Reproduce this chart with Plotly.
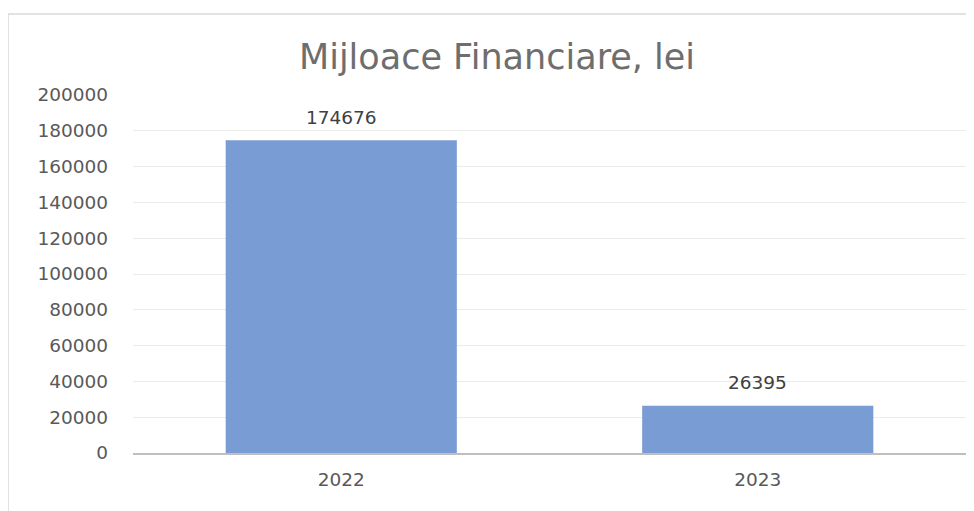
import plotly.graph_objects as go

categories = ["2022", "2023"]
values = [174676, 26395]
y_ticks = list(range(0, 200001, 20000))
title_text = "Mijloace Financiare, lei"

# page body has an 8px margin, so the figure is placed 8px right/down
OFF = 8
W, H = 974 - OFF, 511 - OFF
L, R, T, B = 133 - OFF, 8, 95 - OFF, 58
pw, ph = W - L - R, H - T - B

fig = go.Figure()
fig.add_trace(go.Bar(
    x=categories, y=values,
    marker=dict(color="#7A9CD4", line=dict(width=0)),
    hoverinfo="skip",
))

# value labels (category axis positions are the category indices)
for i, v in enumerate(values):
    fig.add_annotation(
        x=i, y=v, xref="x", yref="y", text=str(v), showarrow=False,
        yanchor="middle", yshift=23,
        font=dict(family="DejaVu Sans", size=18.5, color="#404040"),
    )

# chart outer border
fig.add_shape(
    type="rect", xref="paper", yref="paper",
    x0=(8 - OFF - L) / pw, x1=(990 - OFF - L) / pw,
    y0=(H - B - 530) / ph, y1=(H - B - (14 - OFF)) / ph,
    line=dict(color="#D9D9D9", width=1.5), fillcolor="rgba(0,0,0,0)",
    layer="below",
)

fig.update_layout(
    width=W, height=H,
    margin=dict(l=L, r=R, t=T, b=B, autoexpand=False),
    paper_bgcolor="white", plot_bgcolor="white",
    bargap=0.445,
    showlegend=False,
    title=dict(
        text=title_text, x=(497 - OFF) / W, xanchor="center",
        y=1 - (57 - OFF) / H, yanchor="middle",
        font=dict(family="DejaVu Sans", size=35, color="#6e6e6e"),
    ),
    xaxis=dict(
        type="category", range=[-0.5, 1.5], automargin=False,
        showgrid=False, showline=True, linecolor="#BFBFBF", linewidth=2,
        ticks="", ticklabelstandoff=9,
        tickfont=dict(family="DejaVu Sans", size=18.5, color="#595959"),
    ),
    yaxis=dict(
        automargin=False,
        range=[0, 200000], tickvals=y_ticks,
        ticktext=[str(t) for t in y_ticks],
        showgrid=True, gridcolor="#EBEBEB", gridwidth=1,
        zeroline=False, showline=False, ticks="",
        ticklabelstandoff=24,
        tickfont=dict(family="DejaVu Sans", size=18.5, color="#595959"),
    ),
)

fig.write_html("out.html")
